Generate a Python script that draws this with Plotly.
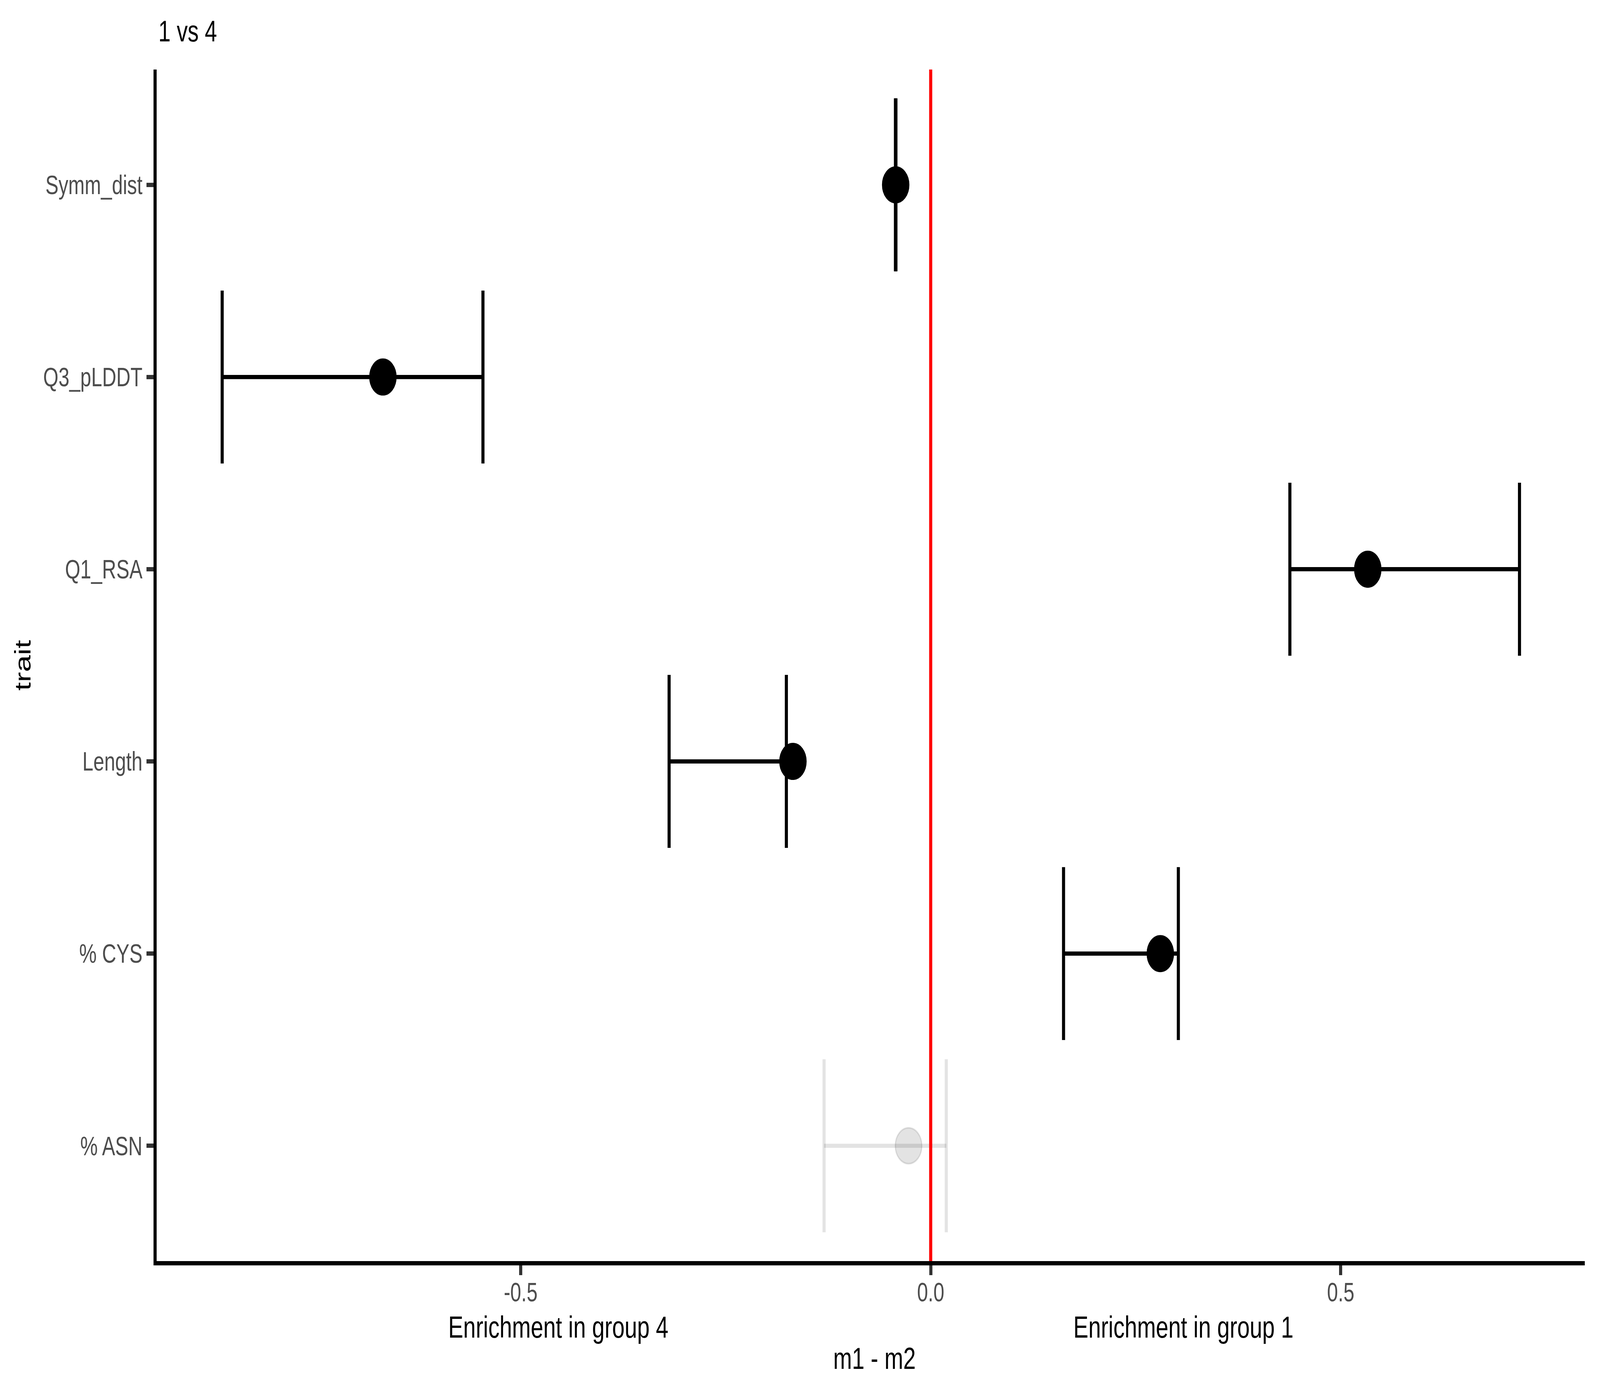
import plotly.graph_objects as go

# ---- data (bottom to top) ----
traits = ["% ASN", "% CYS", "Length", "Q1_RSA", "Q3_pLDDT", "Symm_dist"]
estimate = [-0.027, 0.280, -0.168, 0.533, -0.668, -0.0427]
lower = [-0.130, 0.162, -0.319, 0.438, -0.864, -0.0430]
upper = [0.019, 0.302, -0.176, 0.718, -0.546, -0.0424]
significant = [False, True, True, True, True, True]
x_ticks = [-0.5, 0.0, 0.5]
x_tick_labels = ["-0.5", "0.0", "0.5"]

title_text = "1 vs 4"
x_title = "m1 - m2"
y_title = "trait"
left_label = "Enrichment in group 4"
right_label = "Enrichment in group 1"

W, H = 5544, 3577
PL, PR, PT, PB = 543, 5490.7, 178, 3229
LW = 10.7
CAP = 0.45
FONT = "Liberation Sans, Arial, Helvetica, sans-serif"

ypos = list(range(1, len(traits) + 1))

def bar_path(idx_list):
    xs, ys = [], []
    for i in idx_list:
        y = ypos[i]
        lo, hi = lower[i], upper[i]
        xs += [lo, lo, None, lo, hi, None, hi, hi, None]
        ys += [y - CAP, y + CAP, None, y, y, None, y - CAP, y + CAP, None]
    return xs, ys

sig_idx = [i for i in range(len(traits)) if significant[i]]
ns_idx = [i for i in range(len(traits)) if not significant[i]]

fig = go.Figure()
grey = "rgba(0,0,0,0.11)"

xs, ys = bar_path(ns_idx)
fig.add_trace(go.Scatter(x=xs, y=ys, mode="lines", line=dict(color=grey, width=LW),
                         hoverinfo="skip", showlegend=False))
xs, ys = bar_path(sig_idx)
fig.add_trace(go.Scatter(x=xs, y=ys, mode="lines", line=dict(color="black", width=LW),
                         hoverinfo="skip", showlegend=False))
fig.add_trace(go.Scatter(x=[estimate[i] for i in ns_idx], y=[ypos[i] for i in ns_idx],
                         mode="markers",
                         marker=dict(size=92, color=grey, line=dict(color=grey, width=4)),
                         showlegend=False))
fig.add_trace(go.Scatter(x=[estimate[i] for i in sig_idx], y=[ypos[i] for i in sig_idx],
                         mode="markers",
                         marker=dict(size=91, color="black", line=dict(color="black", width=4)),
                         showlegend=False))

fig.add_shape(type="line", xref="x", yref="paper", x0=0, x1=0, y0=0, y1=1,
              line=dict(color="#FF0000", width=LW), layer="above")

plot_w = PR - PL
plot_h = PB - PT
fig.update_layout(
    width=W, height=H,
    margin=dict(l=PL, r=W - PR, t=PT, b=H - PB, pad=0),
    paper_bgcolor="white", plot_bgcolor="white",
    font=dict(family=FONT, color="black"),
    showlegend=False,
)

axis_common = dict(
    showgrid=False, zeroline=False,
    showline=True, linecolor="black", linewidth=LW,
    ticks="outside", ticklen=25, tickwidth=LW, tickcolor="#333333",
    tickfont=dict(size=68, color="#4d4d4d", family=FONT),
)
fig.update_xaxes(
    range=[(PL - 3224.7) / 2841.3, (PR - 3224.7) / 2841.3],
    tickvals=x_ticks, ticktext=x_tick_labels,
    ticklabelstandoff=-14, **axis_common,
)
fig.update_yaxes(
    range=[0.4, 6.6],
    tickvals=ypos, ticktext=traits,
    ticklabelstandoff=0, **axis_common,
)

def px_x(p):
    return (p - PL) / plot_w

def px_y(p):
    return (PB - p) / plot_h

annos = [
    dict(text=title_text, x=0, y=px_y(80), xanchor="left", size=76, xshift=4),
    dict(text=left_label, x=px_x(1934.7), y=px_y(3398), xanchor="center", size=78),
    dict(text=right_label, x=px_x(4100.7), y=px_y(3398), xanchor="center", size=78),
    dict(text=x_title, x=px_x(3029.8), y=px_y(3478), xanchor="center", size=78),
]
for a in annos:
    fig.add_annotation(text=a["text"], xref="paper", yref="paper", x=a["x"], y=a["y"],
                       xanchor=a["xanchor"], yanchor="middle", showarrow=False,
                       xshift=a.get("xshift", 0),
                       font=dict(size=a["size"], color="black", family=FONT))
fig.add_annotation(text=y_title, xref="paper", yref="paper", x=px_x(78), y=0.5,
                   xanchor="center", yanchor="middle", textangle=-90, showarrow=False,
                   font=dict(size=78, color="black", family=FONT))

# fit the 5544x3577 figure to whatever viewport the browser actually gives
post = """
document.body.style.margin='0';
document.body.style.overflow='hidden';
var gd = document.getElementById('{plot_id}');
var sx = window.innerWidth / %d, sy = window.innerHeight / %d;
gd.style.transformOrigin = '0 0';
gd.style.transform = 'scale(' + sx + ',' + sy + ')';
""" % (W, H)

fig.write_html("out.html", post_script=post, config={"displayModeBar": False})
